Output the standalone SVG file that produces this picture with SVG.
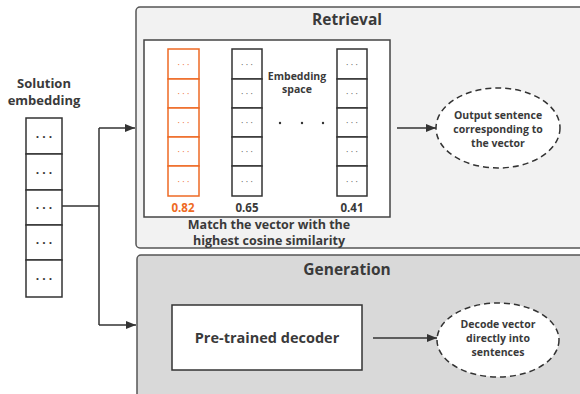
<svg xmlns="http://www.w3.org/2000/svg" width="580" height="394" viewBox="0 0 580 394">
  <defs>
    <marker id="arrow" viewBox="0 0 10 10" refX="10" refY="5" markerWidth="10" markerHeight="10" markerUnits="userSpaceOnUse" orient="auto">
      <path d="M0,1 L10,5 L0,9 z" fill="#333"/>
    </marker>
  </defs>
  <style>
    text { font-family: "Open Sans", "Noto Sans", "DejaVu Sans", sans-serif; font-weight: bold; fill: #3a3a3a; text-anchor: middle; }
    .panel { stroke: #555; stroke-width: 1.5; }
    .cell { fill: #fff; stroke: #333; stroke-width: 1.5; }
    .ocell { fill: #fff; stroke: #ee6a24; stroke-width: 1.5; }
    .dots { font-size: 9px; font-weight: normal; fill: #555; }
    .odots { font-size: 9px; font-weight: normal; fill: #ee6a24; }
    .bigdots { font-size: 12px; font-weight: bold; fill: #333; }
    .wire { fill: none; stroke: #333; stroke-width: 1.5; }
    .oval { fill: #fff; stroke: #333; stroke-width: 1.5; stroke-dasharray: 6 4; }
  </style>

  <!-- Retrieval panel -->
  <g id="retrieval">
    <rect class="panel" x="136" y="7" width="460" height="241" rx="4" fill="#f2f2f2"/>
    <text x="347" y="25" font-size="15.5">Retrieval</text>
  </g>

  <!-- Generation panel -->
  <g id="generation">
    <rect class="panel" x="137" y="255" width="460" height="160" rx="4" fill="#d9d9d9"/>
    <text x="347" y="275" font-size="15.5">Generation</text>
  </g>

  <!-- Input vector -->
  <g id="solution-embedding">
    <text x="44" y="88" font-size="13">Solution</text>
    <text x="44" y="105" font-size="13">embedding</text>
    <rect class="cell" x="26" y="118" width="36" height="36"/>
    <rect class="cell" x="26" y="154" width="36" height="36"/>
    <rect class="cell" x="26" y="190" width="36" height="35"/>
    <rect class="cell" x="26" y="225" width="36" height="35"/>
    <rect class="cell" x="26" y="260" width="36" height="37"/>
    <text class="bigdots" x="44" y="141">· · ·</text>
    <text class="bigdots" x="44" y="177">· · ·</text>
    <text class="bigdots" x="44" y="212">· · ·</text>
    <text class="bigdots" x="44" y="247">· · ·</text>
    <text class="bigdots" x="44" y="283">· · ·</text>
  </g>

  <!-- Embedding space -->
  <g id="embedding-space">
    <rect x="144" y="40" width="246" height="177" fill="#fff" stroke="#444" stroke-width="1.5"/>
    <g>
      <rect class="ocell" x="168" y="49" width="31" height="30"/>
      <rect class="ocell" x="168" y="79" width="31" height="29"/>
      <rect class="ocell" x="168" y="108" width="31" height="29"/>
      <rect class="ocell" x="168" y="137" width="31" height="29"/>
      <rect class="ocell" x="168" y="166" width="31" height="30"/>
      <text class="odots" x="183.5" y="68">· · ·</text>
      <text class="odots" x="183.5" y="97">· · ·</text>
      <text class="odots" x="183.5" y="126">· · ·</text>
      <text class="odots" x="183.5" y="155">· · ·</text>
      <text class="odots" x="183.5" y="185">· · ·</text>
    </g>
    <g>
      <rect class="cell" x="232" y="49" width="30" height="30"/>
      <rect class="cell" x="232" y="79" width="30" height="29"/>
      <rect class="cell" x="232" y="108" width="30" height="29"/>
      <rect class="cell" x="232" y="137" width="30" height="29"/>
      <rect class="cell" x="232" y="166" width="30" height="30"/>
      <text class="dots" x="247" y="68">· · ·</text>
      <text class="dots" x="247" y="97">· · ·</text>
      <text class="dots" x="247" y="126">· · ·</text>
      <text class="dots" x="247" y="155">· · ·</text>
      <text class="dots" x="247" y="185">· · ·</text>
    </g>
    <g>
      <rect class="cell" x="337" y="49" width="30" height="30"/>
      <rect class="cell" x="337" y="79" width="30" height="29"/>
      <rect class="cell" x="337" y="108" width="30" height="29"/>
      <rect class="cell" x="337" y="137" width="30" height="29"/>
      <rect class="cell" x="337" y="166" width="30" height="30"/>
      <text class="dots" x="352" y="68">· · ·</text>
      <text class="dots" x="352" y="97">· · ·</text>
      <text class="dots" x="352" y="126">· · ·</text>
      <text class="dots" x="352" y="155">· · ·</text>
      <text class="dots" x="352" y="185">· · ·</text>
    </g>
    <text x="297" y="80" font-size="10.5">Embedding</text>
    <text x="297" y="93" font-size="10.5">space</text>
    <circle cx="280" cy="123" r="1.2" fill="#333"/>
    <circle cx="302" cy="123" r="1.2" fill="#333"/>
    <circle cx="323" cy="123" r="1.2" fill="#333"/>
    <text x="183" y="212" font-size="11.5" style="fill:#ee6a24">0.82</text>
    <text x="247" y="212" font-size="11.5">0.65</text>
    <text x="352" y="212" font-size="11.5">0.41</text>
  </g>
  <g id="match-caption">
    <text x="269" y="229" font-size="12.5">Match the vector with the</text>
    <text x="269" y="245" font-size="12.5">highest cosine similarity</text>
  </g>

  <!-- Retrieval output -->
  <g id="output-sentence">
    <ellipse class="oval" cx="498" cy="128" rx="62" ry="40"/>
    <text x="498" y="119" font-size="10.5">Output sentence</text>
    <text x="498" y="133" font-size="10.5">corresponding to</text>
    <text x="498" y="147" font-size="10.5">the vector</text>
  </g>

  <!-- Decoder -->
  <g id="decoder">
    <rect x="172" y="305" width="190" height="65" fill="#fff" stroke="#333" stroke-width="1.5"/>
    <text x="267" y="343" font-size="14.5">Pre-trained decoder</text>
  </g>

  <!-- Generation output -->
  <g id="decoded-sentences">
    <ellipse class="oval" cx="498" cy="340" rx="61" ry="37"/>
    <text x="498" y="328" font-size="10.5">Decode vector</text>
    <text x="498" y="342" font-size="10.5">directly into</text>
    <text x="498" y="356" font-size="10.5">sentences</text>
  </g>

  <!-- Connectors -->
  <g id="connectors">
    <path class="wire" d="M62,206 H99"/>
    <path class="wire" d="M99,128 V325"/>
    <path class="wire" d="M99,128 H135" marker-end="url(#arrow)"/>
    <path class="wire" d="M99,325 H136" marker-end="url(#arrow)"/>
    <path class="wire" d="M397,128 H436" marker-end="url(#arrow)"/>
    <path class="wire" d="M373,338 H437" marker-end="url(#arrow)"/>
  </g>
</svg>
